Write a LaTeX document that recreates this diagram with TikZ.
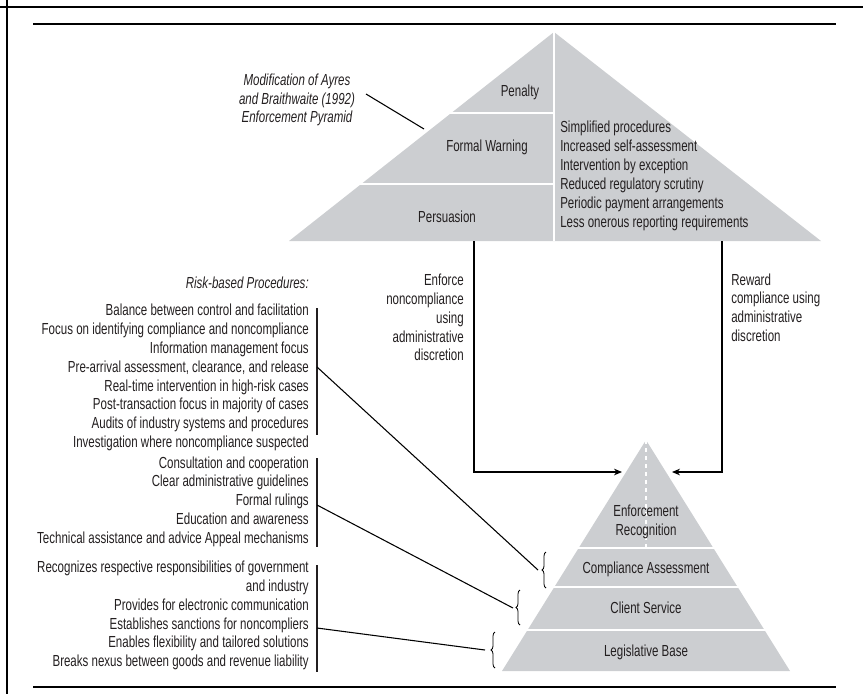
\documentclass[tikz,border=0pt]{standalone}
\usepackage{fontspec}
\setmainfont[FakeStretch=0.72]{Liberation Sans}
\usetikzlibrary{arrows.meta,decorations.pathreplacing}

\definecolor{pyrgray}{RGB}{204,206,209}
\definecolor{inkgray}{RGB}{35,31,32}

\tikzset{
  lbl/.style={inner sep=0pt,font=\fontsize{12}{14.1}\selectfont,text=inkgray},
  lblit/.style={lbl,font=\fontsize{12}{14.1}\selectfont\itshape},
  seam/.style={draw=white,line width=1.5pt},
  bar/.style={draw=inkgray,line width=0.9pt},
  lead/.style={draw=black,line width=0.8pt},
  flow/.style={draw=black,line width=0.8pt,-{Stealth[length=6pt,width=5pt]}},
  rulebar/.style={draw=black,line width=1.6pt},
  bracel/.style={draw=black,line width=0.6pt,decorate,decoration={brace,amplitude=3pt}}
}

\begin{document}
\begin{tikzpicture}[x=0.75pt,y=0.75pt,yscale=-1,xscale=1]
\useasboundingbox (0,0) rectangle (863,694);

%Frame
\draw [line width=1.6pt] (0,7) -- (863,7) ;
\draw [line width=2.2pt] (7,0) -- (7,694) ;
\draw [rulebar] (33,24) -- (836,24) ;
\draw [rulebar] (33,687) -- (836,687) ;

%Upper pyramid
\fill [pyrgray] (289,241) -- (554,32) -- (821,241) -- cycle ;
\draw [seam] (554,32) -- (554,241) ;
\draw [seam] (280,113) -- (554,113) ;
\draw [seam] (280,184) -- (554,184) ;

%Lower pyramid
\fill [pyrgray] (502,671) -- (646,440) -- (790,671) -- cycle ;
\draw [seam] (490,548) -- (800,548) ;
\draw [seam] (490,587) -- (800,587) ;
\draw [seam] (490,630) -- (800,630) ;
\draw [draw=white,line width=0.8pt,dashed] (646,440) -- (646,548) ;

% Text Node
\node (penalty) [lbl] at (520,92) {Penalty};
\node (warning) [lbl] at (487,147) {Formal Warning};
\node (persuade) [lbl] at (447,217) {Persuasion};
\node (easing) [lbl,anchor=west,align=left,font=\fontsize{12}{14.25}\selectfont] at (560,175.5) {Simplified procedures\\Increased self-assessment\\Intervention by exception\\Reduced regulatory scrutiny\\Periodic payment arrangements\\Less onerous reporting requirements};
\node (ayres) [lblit,align=center] at (297,100) {Modification of Ayres\\and Braithwaite (1992)\\Enforcement Pyramid};

\node (enforce) [lbl,anchor=east,align=right] at (464,317.5) {Enforce\\noncompliance\\using\\administrative\\discretion};
\node (reward) [lbl,anchor=west,align=left] at (731,307.5) {Reward\\compliance using\\administrative\\discretion};

\node (riskhead) [lblit,anchor=east] at (309,283) {Risk-based Procedures:};
\node (risk) [lbl,anchor=east,align=right] at (309,377.5) {Balance between control and facilitation\\Focus on identifying compliance and noncompliance\\Information management focus\\Pre-arrival assessment, clearance, and release\\Real-time intervention in high-risk cases\\Post-transaction focus in majority of cases\\Audits of industry systems and procedures\\Investigation where noncompliance suspected};
\node (service) [lbl,anchor=east,align=right] at (309,501.5) {Consultation and cooperation\\Clear administrative guidelines\\Formal rulings\\Education and awareness\\Technical assistance and advice Appeal mechanisms};
\node (legal) [lbl,anchor=east,align=right] at (309,615.5) {Recognizes respective responsibilities of government\\and industry\\Provides for electronic communication\\Establishes sanctions for noncompliers\\Enables flexibility and tailored solutions\\Breaks nexus between goods and revenue liability};

\node (recog) [lbl,align=center] at (646,522) {Enforcement\\Recognition};
\node (assess) [lbl] at (646,569) {Compliance Assessment};
\node (client) [lbl] at (646,608) {Client Service};
\node (base) [lbl] at (646,652) {Legislative Base};

%Coordinates
\coordinate (ayresEnd) at (366,94);
\coordinate (ayresTip) at (424,129);
\coordinate (enfTop) at (474,241);
\coordinate (enfTip) at (622,472);
\coordinate (rewTop) at (722,241);
\coordinate (rewTip) at (672,472);
\coordinate (riskBar) at (317,367);
\coordinate (servBar) at (317,505);
\coordinate (legBar) at (317,628);
\coordinate (assessBr) at (538,570);
\coordinate (clientBr) at (513,608);
\coordinate (baseBr) at (485,650);

%Straight Lines
\draw [lead] (ayresEnd) -- (ayresTip) ;
\draw [flow] (enfTop) |- (enfTip) ;
\draw [flow] (rewTop) |- (rewTip) ;

%Bars
\draw [bar] (317,308) -- (317,435) ;
\draw [bar] (317,458) -- (317,547) ;
\draw [bar] (317,565) -- (317,672) ;

%Braces
\draw [bracel] (546,588) -- (546,552) ;
\draw [bracel] (520,625) -- (520,590) ;
\draw [bracel] (495,668) -- (495,632) ;

%Leaders
\draw [lead] (riskBar) -- (assessBr) ;
\draw [lead] (servBar) -- (clientBr) ;
\draw [lead] (legBar) -- (baseBr) ;
\end{tikzpicture}
\end{document}
